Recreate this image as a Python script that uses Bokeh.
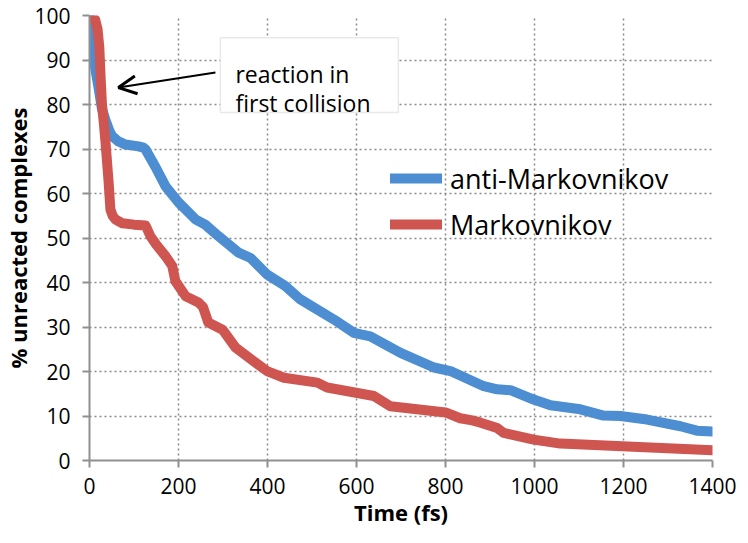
from bokeh.plotting import figure
from bokeh.models import Range1d, Legend, LegendItem, Arrow, OpenHead, Label, BoxAnnotation, FixedTicker
from bokeh.embed import file_html
from bokeh.resources import INLINE

# ---- data ----
anti_t = [0, 2, 6, 13, 20, 28, 36, 45, 51, 65, 81, 110, 121, 126, 148, 171, 200, 238, 260, 290,
          335, 362, 399, 440, 474, 549, 594, 631, 699, 774, 811, 886, 916, 946, 998, 1036, 1103,
          1155, 1193, 1253, 1328, 1365, 1400]
anti_y = [100, 97, 93, 88, 84, 79, 76.5, 74, 72.9, 71.7, 71, 70.6, 70.3, 69.9, 66, 61.6, 58, 54.2,
          53, 50.4, 46.7, 45.5, 41.8, 39.2, 36.2, 31.7, 28.7, 27.9, 24.2, 20.9, 20.1, 16.7, 16,
          15.8, 13.7, 12.4, 11.5, 10.1, 10, 9.2, 7.7, 6.7, 6.5]

mark_t = [5, 13, 18, 22, 25, 28, 32, 36, 43, 47, 52, 58, 65, 74, 100, 126, 137, 150, 171, 186, 193,
          216, 245, 255, 267, 299, 328, 369, 399, 437, 512, 534, 639, 676, 736, 800, 833, 860,
          879, 916, 931, 998, 1058, 1197, 1400]
mark_y = [100, 99, 97, 93, 86, 80, 76, 71.5, 62.5, 56.4, 55, 54.2, 53.8, 53.3, 53, 52.8, 50.4, 48.5,
          45.9, 43.7, 40.3, 36.9, 35.5, 34.5, 31, 29.4, 25.4, 22.3, 20.1, 18.6, 17.5, 16.4, 14.5,
          12.2, 11.5, 10.8, 9.5, 9, 8.5, 7.3, 6.2, 4.7, 3.8, 3.2, 2.3]

x_ticks = [0, 200, 400, 600, 800, 1000, 1200, 1400]
y_ticks = [0, 10, 20, 30, 40, 50, 60, 70, 80, 90, 100]
series_names = ["anti-Markovnikov", "Markovnikov"]
note_lines = ["reaction in", "first collision"]

# annotation placement (data units)
note_box = dict(left=294, right=694, top=95, bottom=78.2)
note_text_x = 328
note_text_y = [86.9, 80.3]
arrow_start = (283, 87.2)
arrow_end = (65, 83.8)

BLUE = "#4C8ED1"
RED = "#CF5650"
GRID = "#8a8a8a"
FONT = "Open Sans"

p = figure(frame_width=623, frame_height=445, output_backend="svg", toolbar_location=None,
           x_range=Range1d(0, 1400), y_range=Range1d(0, 100),
           min_border_left=81, min_border_right=28, min_border_top=15, min_border_bottom=72)
p.outline_line_color = None
p.background_fill_color = "white"

for ax, ticks in ((p.xaxis[0], x_ticks), (p.yaxis[0], y_ticks)):
    ax.ticker = FixedTicker(ticks=ticks)
    ax.axis_line_color = "#909090"
    ax.axis_line_width = 2
    ax.major_tick_line_color = "#909090"
    ax.major_tick_line_width = 2
    ax.major_tick_out = 7
    ax.major_tick_in = 0
    ax.minor_tick_line_color = None
    ax.major_label_text_font = FONT
    ax.major_label_text_font_size = "21px"
    ax.major_label_text_color = "black"
    ax.axis_label_text_font = FONT
    ax.axis_label_text_font_style = "bold"
    ax.axis_label_text_font_size = "22px"
    ax.axis_label_text_color = "black"

p.xaxis.axis_label = "Time (fs)"
p.yaxis.axis_label = "% unreacted complexes"
p.xaxis.major_label_standoff = 10
p.yaxis.major_label_standoff = 12
p.xaxis.axis_label_standoff = 0
p.yaxis.axis_label_standoff = -2

for g in (p.xgrid[0], p.ygrid[0]):
    g.grid_line_color = GRID
    g.grid_line_dash = "2 3"
    g.grid_line_width = 1.5

r_anti = p.line(anti_t, anti_y, line_color=BLUE, line_width=10, line_join="round", line_cap="round")
r_mark = p.line(mark_t, mark_y, line_color=RED, line_width=10, line_join="round", line_cap="round")

legend = Legend(items=[LegendItem(label=series_names[0], renderers=[r_anti]),
                       LegendItem(label=series_names[1], renderers=[r_mark])],
                location=(301, 216), orientation="vertical",
                background_fill_alpha=0, border_line_alpha=0,
                padding=0, margin=0, spacing=6,
                glyph_width=52, glyph_height=40, label_height=40,
                label_standoff=8,
                label_text_font=FONT, label_text_font_size="27px", label_text_color="black")
p.add_layout(legend)

box = BoxAnnotation(fill_color="white", fill_alpha=1.0, line_color="#b5b5b5", line_width=1.5,
                    level="overlay", **note_box)
p.add_layout(box)
for txt, yy in zip(note_lines, note_text_y):
    p.add_layout(Label(x=note_text_x, y=yy, text=txt, text_font=FONT, text_font_size="23px",
                       text_color="black", text_baseline="alphabetic", level="overlay"))

p.add_layout(Arrow(end=OpenHead(size=18, line_width=3, line_color="black"),
                   x_start=arrow_start[0], y_start=arrow_start[1],
                   x_end=arrow_end[0], y_end=arrow_end[1],
                   line_width=2, line_color="black"))

open("out.html", "w").write(file_html(p, INLINE))
